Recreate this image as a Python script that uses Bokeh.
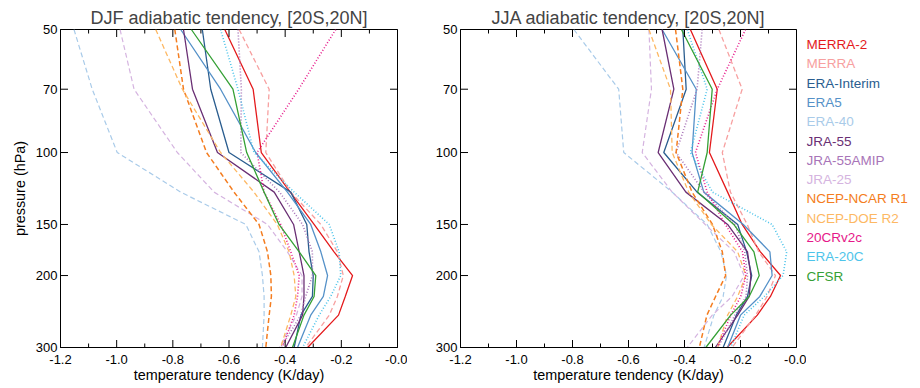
import math
from bokeh.plotting import figure
from bokeh.models import Range1d, FixedTicker, ColumnDataSource
from bokeh.layouts import row
from bokeh.embed import file_html
from bokeh.resources import INLINE
from bokeh.core.properties import value

# ---------------- data ----------------
levels = [50, 70, 100, 125, 150, 175, 200, 225, 250, 300]

names = ["MERRA-2", "MERRA", "ERA-Interim", "ERA5", "ERA-40", "JRA-55", "JRA-55AMIP",
         "JRA-25", "NCEP-NCAR R1", "NCEP-DOE R2", "20CRv2c", "ERA-20C", "CFSR"]

djf_merra2 = [-0.615, -0.514, -0.485, -0.382, -0.297, -0.226, -0.160, -0.186, -0.210, -0.320]
djf_merra = [-0.564, -0.457, -0.469, -0.380, -0.273, -0.214, -0.193, -0.214, -0.243, -0.327]
djf_erai = [-0.695, -0.665, -0.600, -0.380, -0.323, -0.315, -0.300, -0.303, -0.344, -0.368]
djf_era5 = [-0.772, -0.630, -0.505, -0.392, -0.309, -0.273, -0.249, -0.264, -0.309, -0.356]
djf_era40 = [-1.152, -1.087, -0.998, -0.772, -0.540, -0.493, -0.481, -0.475, -0.475, -0.481]
djf_jra55 = [-0.762, -0.730, -0.641, -0.439, -0.370, -0.350, -0.333, -0.333, -0.338, -0.398]
djf_jra55amip = [-0.568, -0.556, -0.558, -0.420, -0.338, -0.303, -0.303, -0.327, -0.344, -0.416]
djf_jra25 = [-0.988, -0.938, -0.784, -0.653, -0.463, -0.392, -0.340, -0.340, -0.360, -0.420]
djf_ncep1 = [-0.793, -0.762, -0.680, -0.582, -0.493, -0.463, -0.451, -0.449, -0.457, -0.469]
djf_ncep2 = [-0.861, -0.766, -0.630, -0.511, -0.428, -0.386, -0.368, -0.362, -0.380, -0.416]
djf_20cr = [-0.220, -0.352, -0.500, -0.475, -0.416, -0.380, -0.350, -0.356, -0.368, -0.410]
djf_era20c = [-0.630, -0.568, -0.511, -0.368, -0.243, -0.208, -0.202, -0.238, -0.279, -0.338]
djf_cfsr = [-0.734, -0.586, -0.537, -0.475, -0.422, -0.350, -0.291, -0.297, -0.333, -0.374]

jja_merra2 = [-0.379, -0.283, -0.311, -0.246, -0.194, -0.129, -0.057, -0.093, -0.140, -0.248]
jja_merra = [-0.277, -0.194, -0.265, -0.236, -0.176, -0.135, -0.075, -0.105, -0.146, -0.230]
jja_erai = [-0.406, -0.394, -0.474, -0.355, -0.210, -0.178, -0.160, -0.175, -0.215, -0.262]
jja_era5 = [-0.480, -0.358, -0.373, -0.331, -0.190, -0.095, -0.087, -0.131, -0.200, -0.246]
jja_era40 = [-0.795, -0.635, -0.617, -0.444, -0.319, -0.270, -0.250, -0.262, -0.295, -0.330]
jja_jra55 = [-0.480, -0.438, -0.494, -0.395, -0.246, -0.175, -0.163, -0.169, -0.210, -0.290]
jja_jra55amip = [-0.337, -0.355, -0.430, -0.330, -0.220, -0.185, -0.175, -0.180, -0.220, -0.280]
jja_jra25 = [-0.527, -0.518, -0.551, -0.444, -0.326, -0.223, -0.187, -0.230, -0.301, -0.390]
jja_ncep1 = [-0.432, -0.406, -0.430, -0.373, -0.300, -0.265, -0.253, -0.289, -0.320, -0.347]
jja_ncep2 = [-0.527, -0.450, -0.444, -0.385, -0.304, -0.210, -0.181, -0.210, -0.246, -0.282]
jja_20cr = [-0.182, -0.283, -0.361, -0.319, -0.254, -0.193, -0.181, -0.199, -0.235, -0.282]
jja_era20c = [-0.390, -0.319, -0.379, -0.300, -0.087, -0.035, -0.048, -0.115, -0.187, -0.235]
jja_cfsr = [-0.411, -0.301, -0.319, -0.353, -0.224, -0.152, -0.133, -0.169, -0.235, -0.324]

x_ticks = [-1.2, -1.0, -0.8, -0.6, -0.4, -0.2, 0.0]
x_tick_labels = ["-1.2", "-1.0", "-0.8", "-0.6", "-0.4", "-0.2", "-0.0"]
x_minor = [-1.1, -0.9, -0.7, -0.5, -0.3, -0.1]
y_ticks = [50, 70, 100, 150, 200, 300]

# ---------------- styles ----------------
colors = ["#e41a1c", "#f7a0a0", "#2a5d8f", "#5591c8", "#a9cbe9", "#6a2f74", "#a874b8",
          "#d5b4e0", "#f47d20", "#fdb863", "#e6198a", "#4dc4ea", "#35a035"]
dashes = ["solid", "5 3", "solid", "solid", "5 3", "solid", "1 2",
          "5 3", "5 3", "5 3", "1 2", "1 2", "solid"]
widths = [1.3, 1.3, 1.3, 1.3, 1.2, 1.3, 1.6, 1.2, 1.5, 1.3, 1.6, 1.6, 1.3]

djf = [djf_merra2, djf_merra, djf_erai, djf_era5, djf_era40, djf_jra55, djf_jra55amip,
       djf_jra25, djf_ncep1, djf_ncep2, djf_20cr, djf_era20c, djf_cfsr]
jja = [jja_merra2, jja_merra, jja_erai, jja_era5, jja_era40, jja_jra55, jja_jra55amip,
       jja_jra25, jja_ncep1, jja_ncep2, jja_20cr, jja_era20c, jja_cfsr]

FONT = "Liberation Sans"
TOP = 29
BOTTOM = 36
FH = 318


def style_axis(ax):
    ax.axis_line_color = "black"
    ax.axis_line_width = 1
    ax.major_tick_line_color = None
    ax.minor_tick_line_color = None
    ax.major_tick_in = 0
    ax.major_tick_out = 0
    ax.minor_tick_in = 0
    ax.minor_tick_out = 0
    ax.major_label_text_font = FONT
    ax.major_label_text_color = "black"
    ax.major_label_text_font_size = "13px"
    ax.axis_label_text_font = FONT
    ax.axis_label_text_font_size = "14.4px"
    ax.axis_label_text_font_style = "normal"
    ax.axis_label_text_color = "black"


def add_ticks(p):
    # inward tick marks on all four sides (markers are clipped to the frame)
    for yv in (y_ticks[0], y_ticks[-1]):
        p.scatter(x=x_ticks, y=[yv] * len(x_ticks), marker="dash", angle=math.pi / 2,
                  size=15, line_color="black", line_width=1)
        p.scatter(x=x_minor, y=[yv] * len(x_minor), marker="dash", angle=math.pi / 2,
                  size=8, line_color="black", line_width=1)
    for xv in (x_ticks[0], x_ticks[-1]):
        p.scatter(x=[xv] * len(y_ticks), y=y_ticks, marker="dash",
                  size=15, line_color="black", line_width=1)


def make_panel(title, data, ylabel, left_border, fw):
    p = figure(frame_width=fw, frame_height=FH,
               x_range=Range1d(x_ticks[0], x_ticks[-1]), y_range=Range1d(y_ticks[-1], y_ticks[0]),
               y_axis_type="log", output_backend="svg", toolbar_location=None,
               min_border_left=left_border, min_border_right=10,
               min_border_top=TOP, min_border_bottom=BOTTOM)
    p.title.text = title
    p.title.align = "center"
    p.title.text_font = FONT
    p.title.text_font_size = "18px"
    p.title.text_font_style = "normal"
    p.title.standoff = 4
    p.xgrid.visible = False
    p.ygrid.visible = False
    p.outline_line_color = "black"
    p.outline_line_alpha = 1.0

    xa = p.xaxis[0]
    xa.ticker = FixedTicker(ticks=x_ticks, minor_ticks=x_minor)
    xa.major_label_overrides = {t: l for t, l in zip(x_ticks, x_tick_labels)}
    xa.axis_label = "temperature tendency (K/day)"
    style_axis(xa)
    xa.major_label_standoff = 7
    xa.axis_label_standoff = 0

    ya = p.yaxis[0]
    ya.ticker = FixedTicker(ticks=y_ticks, minor_ticks=[])
    ya.major_label_overrides = {t: str(t) for t in y_ticks}
    if ylabel:
        ya.axis_label = ylabel
    style_axis(ya)
    ya.major_label_standoff = 3
    ya.axis_label_standoff = 5

    for vals, c, d, w in zip(data, colors, dashes, widths):
        p.line(vals, levels, line_color=c, line_dash=d, line_width=w)
    add_ticks(p)
    return p


p1 = make_panel("DJF adiabatic tendency, [20S,20N]", djf, "pressure (hPa)", 60, 337)
p2 = make_panel("JJA adiabatic tendency, [20S,20N]", jja, None, 53, 336)

# legend panel (colored names); its frame lines up with the plot frames
p3 = figure(frame_width=106, frame_height=FH, x_range=Range1d(0, 106), y_range=Range1d(FH, 0),
            min_border_left=0, min_border_right=0, min_border_top=TOP, min_border_bottom=BOTTOM,
            output_backend="svg", toolbar_location=None)
p3.axis.visible = False
p3.grid.visible = False
p3.outline_line_color = None
src = ColumnDataSource(dict(
    x=[0] * len(names),
    y=[15 + 19.3 * i for i in range(len(names))],
    text=names,
    color=colors,
))
p3.text(x="x", y="y", text="text", text_color="color", source=src,
        text_font=value(FONT), text_font_size="13.5px", text_baseline="middle",
        text_align="left")

layout = row(p1, p2, p3)
open("out.html", "w").write(file_html(layout, INLINE))
